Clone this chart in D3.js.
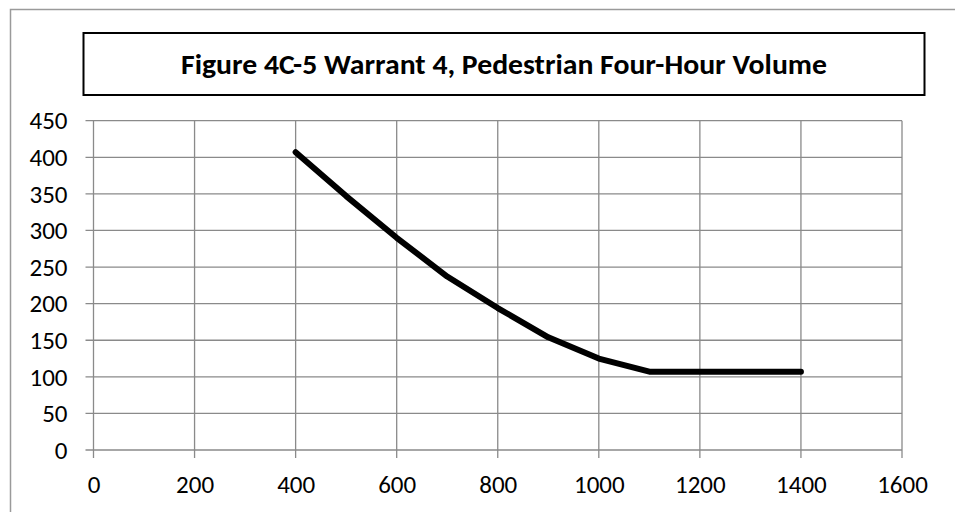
<!DOCTYPE html>
<html>
<head>
<meta charset="utf-8">
<script src="https://cdn.jsdelivr.net/npm/d3@7"></script>
<style>
  html, body { margin: 0; padding: 0; background: #fff; }
  svg { display: block; }
</style>
</head>
<body>
<svg id="chart" width="955" height="512"></svg>
<script>
// ---- data ----
const title = "Figure 4C-5 Warrant 4, Pedestrian Four-Hour Volume";
const vehicles = [400, 500, 600, 700, 800, 900, 1000, 1100, 1200, 1300, 1400];
const pedestrians = [407, 347, 290, 237, 194, 154, 125, 107, 107, 107, 107];
const xTicks = [0, 200, 400, 600, 800, 1000, 1200, 1400, 1600];
const yTicks = [0, 50, 100, 150, 200, 250, 300, 350, 400, 450];

const svg = d3.select("#chart");
const font = "Carlito, Calibri, 'Liberation Sans', Arial, sans-serif";
const grid = "#8a8a8a";

// outer chart border
svg.append("rect")
  .attr("x", 10.5).attr("y", 9.5)
  .attr("width", 960).attr("height", 520)
  .attr("fill", "#fff").attr("stroke", "#9a9a9a").attr("stroke-width", 1.5);

// title box
svg.append("rect")
  .attr("x", 83.5).attr("y", 33)
  .attr("width", 841).attr("height", 62)
  .attr("fill", "#fff").attr("stroke", "#000").attr("stroke-width", 2);

svg.append("text")
  .attr("x", 504).attr("y", 74)
  .attr("text-anchor", "middle")
  .attr("font-family", font)
  .attr("font-weight", "bold")
  .attr("font-size", 28)
  .attr("textLength", 646)
  .attr("lengthAdjust", "spacingAndGlyphs")
  .attr("fill", "#000")
  .text(title);

// scales
const x = d3.scaleLinear().domain([0, 1600]).range([93.5, 902]);
const y = d3.scaleLinear().domain([0, 450]).range([450, 120.7]);

// gridlines
const g = svg.append("g");
g.selectAll("line.h").data(yTicks).join("line")
  .attr("class", "h")
  .attr("x1", x(0) - 8).attr("x2", x(1600))
  .attr("y1", d => y(d)).attr("y2", d => y(d))
  .attr("stroke", grid).attr("stroke-width", 1.3);
g.selectAll("line.v").data(xTicks).join("line")
  .attr("class", "v")
  .attr("x1", d => x(d)).attr("x2", d => x(d))
  .attr("y1", y(450)).attr("y2", y(0) + 8)
  .attr("stroke", grid).attr("stroke-width", 1.3);

// axes labels via d3 axes
const fmt = d3.format("d");
const yAxis = d3.axisLeft(y).tickValues(yTicks).tickFormat(fmt).tickSize(0).tickPadding(0);
const yg = svg.append("g").attr("transform", `translate(${x(0) - 26},0)`).call(yAxis);
yg.select(".domain").remove();
yg.selectAll("text")
  .attr("font-family", font).attr("font-size", 25).attr("fill", "#000")
  .attr("dy", "0.33em");

const xAxis = d3.axisBottom(x).tickValues(xTicks).tickFormat(fmt).tickSize(0).tickPadding(0);
const xg = svg.append("g").attr("transform", `translate(0,475)`).call(xAxis);
xg.select(".domain").remove();
xg.selectAll("text")
  .attr("font-family", font).attr("font-size", 25).attr("fill", "#000")
  .attr("dy", "0.72em");

// data line
const pts = vehicles.map((v, i) => [v, pedestrians[i]]);
svg.append("path")
  .datum(pts)
  .attr("fill", "none")
  .attr("stroke", "#000")
  .attr("stroke-width", 6)
  .attr("stroke-linecap", "round")
  .attr("stroke-linejoin", "round")
  .attr("d", d3.line().x(d => x(d[0])).y(d => y(d[1])));
</script>
</body>
</html>
